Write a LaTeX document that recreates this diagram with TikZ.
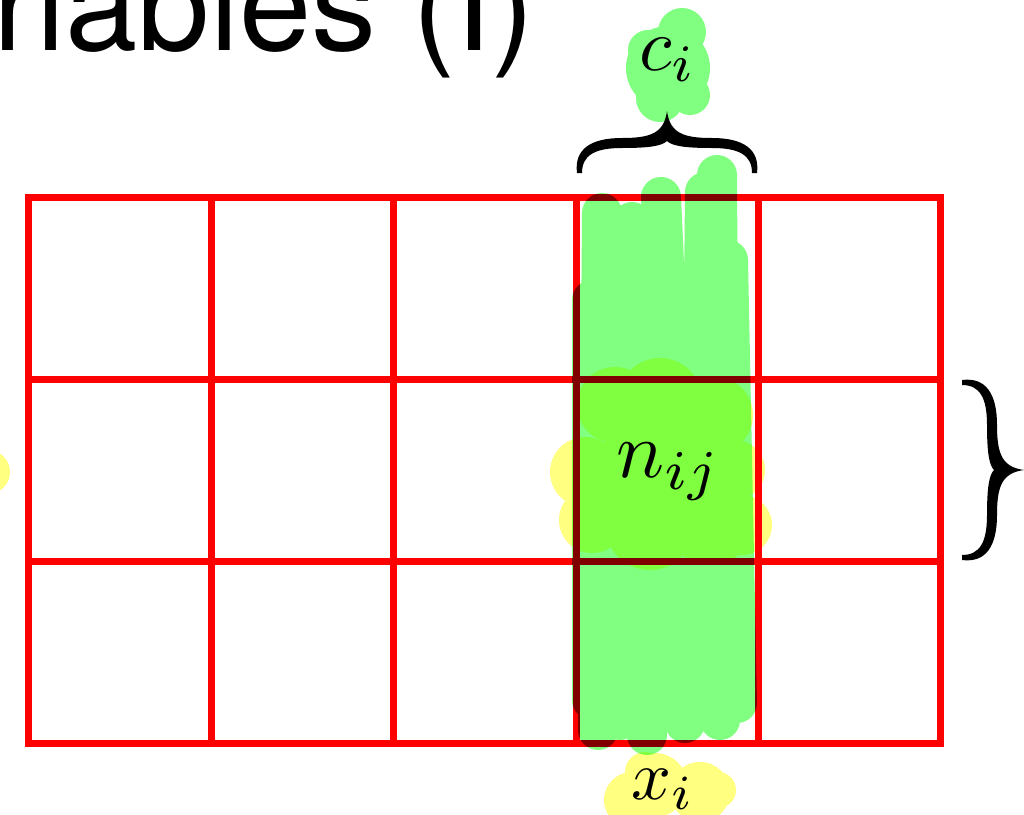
\documentclass[tikz,border=0pt]{standalone}
\usepackage{fontspec}
\newfontfamily\heros{TeX Gyre Heros}
\definecolor{gridred}{RGB}{255,0,0}
\definecolor{hlgreen}{RGB}{128,255,128}
\definecolor{hlyellow}{RGB}{255,255,128}
\newcommand\mybracepath{(0,0) .. controls (24,-3) and (35,14) .. (35,45) .. controls (35,74) and (40,87) .. (62,90) .. controls (40,93) and (35,106) .. (35,135) .. controls (35,166) and (24,183) .. (0,180) -- (0,175) .. controls (18,175) and (25,162) .. (25,135) .. controls (25,108) and (27,95) .. (32,90) .. controls (27,85) and (25,72) .. (25,45) .. controls (25,18) and (18,5) .. (0,5) -- cycle}
\tikzset{
  gridline/.style={draw=gridred, line width=7pt},
  hlstroke/.style={draw=hlgreen, line width=40pt, line cap=round},
  bracefill/.style={fill=black},
  mathlabel/.style={anchor=base west, inner sep=0pt},
}
\begin{document}
\begin{tikzpicture}[x=1pt,y=-1pt]
\useasboundingbox (0,0) rectangle (1024,814);
\clip (0,0) rectangle (1024,814);
% title
\node[anchor=base west, inner sep=0pt, font=\heros\fontsize{130}{130}\selectfont] (title) at (-158,50) {Variables (I)};
% grid
\draw[gridline] (28,197) rectangle (940,743);
\foreach \x in {211,393,576,758} \draw[gridline] (\x,197) -- (\x,743);
\foreach \y in {379,561} \draw[gridline] (28,\y) -- (940,\y);
% highlighter layer
\begin{scope}[blend mode=multiply]
  \draw[hlstroke] (602,213) -- (598,730) (592,300) -- (592,700) (632,222) -- (647,735)
        (620,250) -- (620,720) (661,197) -- (685,723) (705,192) -- (700,700)
        (717,175) -- (720,720) (728,260) -- (737,703);
  \fill[hlyellow] (615,405) circle[radius=38] (660,400) circle[radius=42] (715,415) circle[radius=38]
        (585,472) circle[radius=35] (592,520) circle[radius=33] (650,525) circle[radius=45]
        (710,520) circle[radius=45] (742,525) circle[radius=30] (735,470) circle[radius=30]
        (660,465) circle[radius=60];
  \fill[hlyellow] (-12,472) circle[radius=22];
  \fill[hlgreen] (668,68) circle[radius=42] (682,32) circle[radius=24] (660,98) circle[radius=24]
        (690,95) circle[radius=20] (648,50) circle[radius=20];
  \fill[hlyellow] (655,785) circle[radius=32] (700,792) circle[radius=30] (718,790) circle[radius=18]
        (632,800) circle[radius=28] (645,772) circle[radius=20];
\end{scope}
% braces
\begin{scope}[shift={(962,380)}]
  \fill[bracefill] \mybracepath;
\end{scope}
\begin{scope}[shift={(577,173)}, rotate=90]
  \fill[bracefill] \mybracepath;
\end{scope}
% labels
\node[mathlabel, scale=7.5] (ci) at (638,70) {$c_i$};
\node[mathlabel, scale=8] (nij) at (615,477) {$n_{ij}$};
\node[mathlabel, scale=7] (xi) at (630,799) {$x_i$};
\end{tikzpicture}
\end{document}
